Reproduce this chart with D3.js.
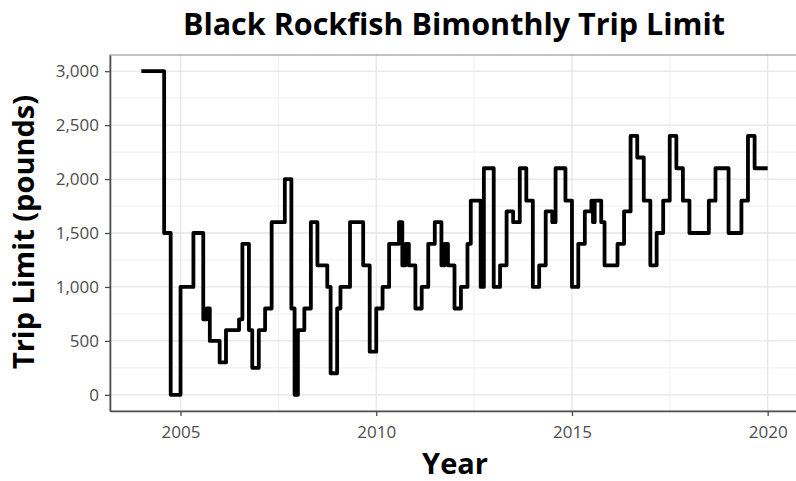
<!DOCTYPE html>
<html><head><meta charset="utf-8">
<script src="https://cdn.jsdelivr.net/npm/d3@7"></script>
<style>body{margin:0;background:#fff} svg{display:block}</style>
</head><body>
<svg id="chart" width="796" height="481"></svg>
<script>
const titleText = "Black Rockfish Bimonthly Trip Limit";
const xTitle = "Year";
const yTitle = "Trip Limit (pounds)";

// step change dates and the trip limit (pounds) in force from that date
const changeDates = [
  "2004-01-01","2004-08-01","2004-10-01",
  "2005-01-01","2005-05-01","2005-08-01","2005-09-01","2005-10-01",
  "2006-01-01","2006-03-01","2006-07-01","2006-08-01","2006-10-01","2006-11-01",
  "2007-01-01","2007-03-01","2007-05-01","2007-09-01","2007-11-01","2007-12-01",
  "2008-01-01","2008-03-01","2008-05-01","2008-07-01","2008-10-01","2008-11-01",
  "2009-01-01","2009-02-01","2009-05-01","2009-09-01","2009-11-01",
  "2010-01-01","2010-03-01","2010-05-01","2010-08-01","2010-09-01","2010-10-01","2010-11-01",
  "2011-01-01","2011-03-01","2011-05-01","2011-07-01","2011-09-01","2011-10-01","2011-11-01",
  "2012-01-01","2012-03-01","2012-05-01","2012-06-01","2012-09-01","2012-10-01",
  "2013-01-01","2013-03-01","2013-05-01","2013-07-01","2013-09-01","2013-11-01",
  "2014-01-01","2014-03-01","2014-05-01","2014-07-01","2014-08-01","2014-11-01",
  "2015-01-01","2015-03-01","2015-05-01","2015-07-01","2015-07-16","2015-08-01","2015-10-01","2015-11-01",
  "2016-03-01","2016-05-01","2016-07-01","2016-09-01","2016-11-01",
  "2017-01-01","2017-03-01","2017-05-01","2017-07-01","2017-09-01","2017-11-01",
  "2018-01-01","2018-07-01","2018-09-01",
  "2019-01-01","2019-05-01","2019-07-01","2019-09-01"
];
const tripLimits = [
  3000,1500,0,
  1000,1500,700,800,500,
  300,600,700,1400,600,250,
  600,800,1600,2000,800,0,
  600,800,1600,1200,1000,200,
  800,1000,1600,1200,400,
  800,1000,1400,1600,1200,1400,1200,
  800,1000,1400,1600,1200,1400,1200,
  800,1000,1400,1800,1000,2100,
  1000,1200,1700,1600,2100,1800,
  1000,1200,1700,1600,2100,1800,
  1000,1400,1700,1800,1600,1800,1600,1200,
  1400,1700,2400,2200,1800,
  1200,1500,1800,2400,2100,1800,
  1500,1800,2100,
  1500,1800,2400,2100
];
const endDate = "2020-01-01";
const yearTicks = [2005, 2010, 2015, 2020];
const yTicks = [0, 500, 1000, 1500, 2000, 2500, 3000];

const panel = {left: 110, right: 799, top: 55, bottom: 411};
const svg = d3.select("#chart");
const font = "'Open Sans', 'Noto Sans', sans-serif";

const parse = d3.timeParse("%Y-%m-%d");
const dates = changeDates.map(parse);
const series = dates.map((d, i) => ({date: d, value: tripLimits[i]}));
const dEnd = parse(endDate);
series.push({date: dEnd, value: tripLimits[tripLimits.length - 1]});

const span = dEnd - dates[0];
const x = d3.scaleTime()
  .domain([new Date(+dates[0] - 0.05 * span), new Date(+dEnd + 0.05 * span)])
  .range([panel.left, panel.right]);
const yLo = d3.min(tripLimits), yHi = d3.max(tripLimits), ySpan = yHi - yLo;
const y = d3.scaleLinear()
  .domain([yLo - 0.05 * ySpan, yHi + 0.05 * ySpan])
  .range([panel.bottom, panel.top]);

const majorX = yearTicks.map(yr => new Date(yr, 0, 1));
const minorX = [];
for (let i = 0; i < majorX.length - 1; i++) minorX.push(new Date((+majorX[i] + +majorX[i + 1]) / 2));
minorX.unshift(new Date(+majorX[0] - (+majorX[1] - +majorX[0]) / 2));
const minorY = [];
for (let i = 0; i < yTicks.length - 1; i++) minorY.push((yTicks[i] + yTicks[i + 1]) / 2);

svg.append("rect").attr("width", 796).attr("height", 481).attr("fill", "#fff");

svg.append("clipPath").attr("id", "pclip").append("rect")
  .attr("x", panel.left).attr("y", panel.top)
  .attr("width", panel.right - panel.left).attr("height", panel.bottom - panel.top);

const g = svg.append("g").attr("clip-path", "url(#pclip)");
// minor grid
g.selectAll(".mgx").data(minorX).enter().append("line")
  .attr("x1", d => x(d)).attr("x2", d => x(d)).attr("y1", panel.top).attr("y2", panel.bottom)
  .attr("stroke", "#f0f0f0").attr("stroke-width", 1);
g.selectAll(".mgy").data(minorY).enter().append("line")
  .attr("y1", d => y(d)).attr("y2", d => y(d)).attr("x1", panel.left).attr("x2", panel.right)
  .attr("stroke", "#f0f0f0").attr("stroke-width", 1);
// major grid
g.selectAll(".gx").data(majorX).enter().append("line")
  .attr("x1", d => x(d)).attr("x2", d => x(d)).attr("y1", panel.top).attr("y2", panel.bottom)
  .attr("stroke", "#e5e5e5").attr("stroke-width", 1.3);
g.selectAll(".gy").data(yTicks).enter().append("line")
  .attr("y1", d => y(d)).attr("y2", d => y(d)).attr("x1", panel.left).attr("x2", panel.right)
  .attr("stroke", "#e5e5e5").attr("stroke-width", 1.3);

// step line
const line = d3.line().x(d => x(d.date)).y(d => y(d.value)).curve(d3.curveStepAfter);
g.append("path").datum(series).attr("d", line)
  .attr("fill", "none").attr("stroke", "#000").attr("stroke-width", 3.8)
  .attr("stroke-linejoin", "round").attr("stroke-linecap", "butt");

// panel border
svg.append("rect").attr("x", panel.left).attr("y", panel.top)
  .attr("width", panel.right - panel.left).attr("height", panel.bottom - panel.top)
  .attr("fill", "none").attr("stroke", "#9a9a9a").attr("stroke-width", 1.2);

// axes
const xAxis = d3.axisBottom(x).tickValues(majorX).tickFormat(d3.timeFormat("%Y")).tickSize(5).tickSizeOuter(0);
const gx = svg.append("g").attr("transform", `translate(0,${panel.bottom})`).call(xAxis);
const yAxis = d3.axisLeft(y).tickValues(yTicks).tickFormat(d3.format(",")).tickSize(5).tickSizeOuter(0);
const gy = svg.append("g").attr("transform", `translate(${panel.left},0)`).call(yAxis);
[gx, gy].forEach(ax => {
  ax.select(".domain").attr("stroke", "#4d4d4d").attr("stroke-width", 1.6);
  ax.selectAll(".tick line").attr("stroke", "#4d4d4d").attr("stroke-width", 1.3);
  ax.selectAll(".tick text").attr("fill", "#4d4d4d").style("font-family", font).style("font-size", "17px");
});
gx.selectAll(".tick text").attr("y", 15).attr("dy", "0.71em");
gy.selectAll(".tick text").attr("x", -11);

// titles
svg.append("text").attr("x", 454).attr("y", 35).attr("text-anchor", "middle")
  .style("font-family", font).style("font-weight", "bold").style("font-size", "30.5px")
  .attr("fill", "#000").text(titleText);
svg.append("text").attr("x", 455).attr("y", 474).attr("text-anchor", "middle")
  .style("font-family", font).style("font-weight", "bold").style("font-size", "29px")
  .attr("fill", "#000").text(xTitle);
svg.append("text").attr("transform", "translate(34,232) rotate(-90)").attr("text-anchor", "middle")
  .style("font-family", font).style("font-weight", "bold").style("font-size", "29px")
  .attr("fill", "#000").text(yTitle);
</script>
</body></html>
